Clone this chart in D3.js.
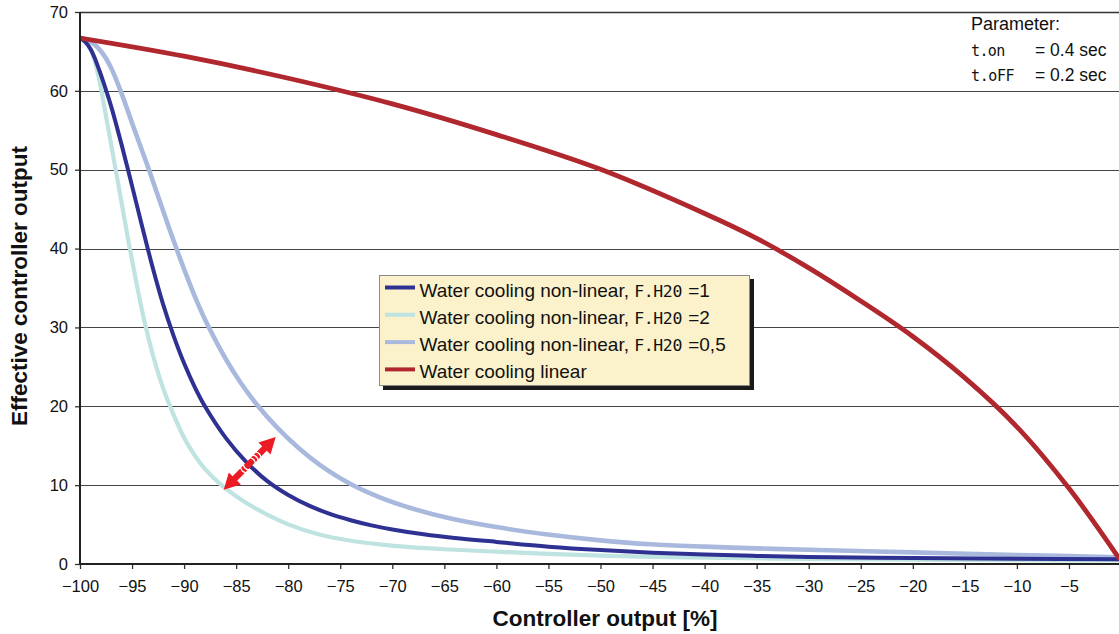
<!DOCTYPE html>
<html>
<head>
<meta charset="utf-8">
<script src="https://cdn.jsdelivr.net/npm/d3@7"></script>
<style>
  html, body { margin: 0; padding: 0; background: #fff; }
  svg { display: block; font-family: "Liberation Sans", Arial, sans-serif; }
</style>
</head>
<body>
<svg id="chart" width="1119" height="634"></svg>
<script>
// ---------------- data ----------------
const xTicks = [-100,-95,-90,-85,-80,-75,-70,-65,-60,-55,-50,-45,-40,-35,-30,-25,-20,-15,-10,-5];
const yTicks = [0,10,20,30,40,50,60,70];

// Water cooling non-linear, F.H2O = 1
const darkX = [-100,-99.5,-99,-98.6,-98.2,-97.8,-97.5,-97,-96,-95,-94,-93,-92,-91,-90,-89,-88,-86,-84,-82,-80,-78,-76,-74,-72,-70,-67,-64,-60,-55,-50,-45,-40,-35,-30,-20,-10,-0.2];
const darkY = [66.7,66.2,65.3,64.2,62.8,61.3,60.1,58.0,53.15,47.95,42.65,37.5,32.85,28.9,25.45,22.5,20,16.0,12.9,10.5,8.75,7.4,6.35,5.55,4.9,4.38,3.77,3.3,2.8,2.2,1.76,1.43,1.19,1.02,0.9,0.76,0.67,0.6];

// Water cooling non-linear, F.H2O = 2
const tealX = [-100,-99.5,-99.2,-98.9,-98.6,-98.3,-98,-97.3,-96.6,-95.95,-95.3,-94.6,-93.85,-93,-92.2,-91.5,-90,-89,-88,-86.55,-85,-83,-80,-77,-74.1,-71,-68,-64.5,-60,-55,-50,-45,-40,-30,-20,-10,-0.2];
const tealY = [66.7,66.4,65.9,65.1,63.9,62.3,60.4,55.3,50.2,45.4,40.6,35.8,31.0,26.5,23.0,20.5,16.0,13.8,12.05,10.15,8.6,6.95,5.03,3.74,2.98,2.46,2.11,1.84,1.56,1.28,1.05,0.9,0.79,0.65,0.55,0.49,0.45];

// Water cooling non-linear, F.H2O = 0,5
const lightX = [-100,-99.5,-99,-98.5,-98,-97.5,-96.9,-96.1,-94.75,-93.4,-92.15,-90.9,-89.8,-88.8,-87.7,-86,-84.5,-83,-81.1,-79,-77,-74.1,-71.2,-68,-64.5,-60,-54.85,-50,-45.2,-40,-35,-30,-20,-10,-0.2];
const lightY = [66.7,66.55,66.25,65.75,65.05,64.1,62.6,60,55,50.1,45.3,40.6,36.7,33.4,30.2,26.0,22.85,20.2,17.35,14.7,12.6,10.2,8.45,7.0,5.8,4.68,3.7,3.0,2.5,2.2,1.98,1.8,1.48,1.15,0.85];

// Water cooling linear
const redX = [-100,-90,-80,-70,-60,-50,-40,-35,-30,-25,-20,-15,-10,-5,-0.2];
const redY = [66.7,64.4,61.6,58.35,54.45,50.05,44.45,41.3,37.55,33.35,28.85,23.6,17.4,9.6,0.75];

// annotation arrow (data units)
const arrowFrom = [-86.2, 9.4];
const arrowTo = [-81.2, 16.1];

const legendPrefix = ["Water cooling non-linear, ", "Water cooling non-linear, ", "Water cooling non-linear, ", "Water cooling linear"];
const legendParam = ["F.H20", "F.H20", "F.H20", ""];
const legendValue = ["=1", "=2", "=0,5", ""];

// ---------------- drawing ----------------
const svg = d3.select("#chart");
const W = 1119, H = 634;
const x = d3.scaleLinear().domain([-100, 0]).range([80, 1121]);
const y = d3.scaleLinear().domain([0, 70]).range([564, 12]);

const colors = { dark: "#2e3192", teal: "#bfe3e0", light: "#a9b9dd", red: "#b0272e" };

// gridlines
svg.append("g").selectAll("line").data(yTicks.filter(d => d > 0)).join("line")
  .attr("x1", x(-100)).attr("x2", W)
  .attr("y1", d => Math.round(y(d)) + 0.5).attr("y2", d => Math.round(y(d)) + 0.5)
  .attr("stroke", d => d === 70 ? "#333" : "#444")
  .attr("stroke-width", d => d === 70 ? 1.6 : 1.2);

// clip
svg.append("clipPath").attr("id", "plotclip").append("rect")
  .attr("x", x(-100)).attr("y", 0).attr("width", W - x(-100)).attr("height", y(0));

const line = d3.line().x(d => x(d[0])).y(d => y(d[1])).curve(d3.curveCatmullRom.alpha(0.5));
const series = [
  { pts: d3.zip(tealX, tealY), c: colors.teal, w: 4.2 },
  { pts: d3.zip(lightX, lightY), c: colors.light, w: 4.6 },
  { pts: d3.zip(darkX, darkY), c: colors.dark, w: 4 },
  { pts: d3.zip(redX, redY), c: colors.red, w: 4.8 }
];
const gLines = svg.append("g").attr("clip-path", "url(#plotclip)");
series.forEach(s => {
  gLines.append("path").datum(s.pts)
    .attr("d", line)
    .attr("fill", "none")
    .attr("stroke", s.c)
    .attr("stroke-width", s.w)
    .attr("stroke-linejoin", "round")
    .attr("stroke-linecap", "round");
});

// axes
const yAxis = d3.axisLeft(y).tickValues(yTicks).tickSize(5).tickPadding(7);
const gy = svg.append("g").attr("transform", `translate(${x(-100)},0)`).call(yAxis);
gy.select(".domain").remove();
gy.selectAll(".tick line").attr("stroke", "#333").attr("stroke-width", 1.3);
gy.selectAll("text").attr("font-size", 16.5).attr("fill", "#111").attr("font-family", "Liberation Sans, Arial, sans-serif");

const xAxis = d3.axisBottom(x).tickValues(xTicks).tickSize(5).tickPadding(11);
const gx = svg.append("g").attr("transform", `translate(0,${y(0)})`).call(xAxis);
gx.select(".domain").remove();
gx.selectAll(".tick line").attr("stroke", "#333").attr("stroke-width", 1.3);
gx.selectAll("text").attr("font-size", 16.5).attr("fill", "#111").attr("font-family", "Liberation Sans, Arial, sans-serif");

// axis lines
svg.append("line").attr("x1", x(-100)).attr("x2", x(-100)).attr("y1", y(70)).attr("y2", y(0) + 1)
  .attr("stroke", "#222").attr("stroke-width", 2);
svg.append("line").attr("x1", x(-100) - 1).attr("x2", W).attr("y1", y(0)).attr("y2", y(0))
  .attr("stroke", "#222").attr("stroke-width", 2);

// axis titles
svg.append("text").attr("x", 605).attr("y", 626).attr("text-anchor", "middle")
  .attr("font-weight", "bold").attr("font-size", 22.5).attr("fill", "#111")
  .text("Controller output [%]");
svg.append("text").attr("transform", "translate(27,286) rotate(-90)").attr("text-anchor", "middle")
  .attr("font-weight", "bold").attr("font-size", 22.5).attr("fill", "#111")
  .text("Effective controller output");

// arrow annotation
(function () {
  const x0 = x(arrowFrom[0]), y0 = y(arrowFrom[1]);
  const x1 = x(arrowTo[0]), y1 = y(arrowTo[1]);
  const len = Math.hypot(x1 - x0, y1 - y0);
  const ang = Math.atan2(y1 - y0, x1 - x0) * 180 / Math.PI;
  const g = svg.append("g").attr("transform", `translate(${x0},${y0}) rotate(${ang})`);
  const hl = 16, hw = 8.5, bw = 3.2;
  g.append("path").attr("fill", "#ec1c24").attr("d",
    `M0,0 L${hl},${-hw} L${hl},${-bw} L${len - hl},${-bw} L${len - hl},${-hw} L${len},0 L${len - hl},${hw} L${len - hl},${bw} L${hl},${bw} L${hl},${hw} Z`);
  const mid = len / 2;
  [-9, -5, 4, 8, 12].forEach(o => {
    g.append("path").attr("fill", "none").attr("stroke", "#fff").attr("stroke-width", 1.3)
      .attr("d", `M${mid + o},${-bw - 1} Q${mid + o + (o < 0 ? -3 : 3)},0 ${mid + o},${bw + 1}`);
  });
})();

// legend
const lg = svg.append("g").attr("transform", "translate(379,275)");
lg.append("rect").attr("x", 4).attr("y", 4).attr("width", 371).attr("height", 111).attr("fill", "#1a1a1a");
lg.append("rect").attr("x", 0.5).attr("y", 0.5).attr("width", 370).attr("height", 110)
  .attr("fill", "#fbf2cc").attr("stroke", "#8a8a8a").attr("stroke-width", 1);
const legendColors = [colors.dark, colors.teal, colors.light, colors.red];
legendColors.forEach((c, i) => {
  const yy = 12.5 + i * 27.3;
  lg.append("line").attr("x1", 6).attr("x2", 36).attr("y1", yy).attr("y2", yy)
    .attr("stroke", c).attr("stroke-width", 4);
  const t = lg.append("text").attr("x", 40.5).attr("y", yy + 9).attr("font-size", 19).attr("fill", "#111");
  t.append("tspan").text(legendPrefix[i]);
  if (legendParam[i]) {
    t.append("tspan").attr("font-size", 16.5).attr("letter-spacing", -0.4)
      .attr("font-family", "DejaVu Sans Mono, monospace").text(legendParam[i]);
    t.append("tspan").attr("dx", 1).text(" " + legendValue[i]);
  }
});

// parameter text
const pg = svg.append("g").attr("fill", "#111");
pg.append("text").attr("x", 971).attr("y", 30).attr("font-size", 18).text("Parameter:");
pg.append("text").attr("x", 971).attr("y", 56).attr("font-family", "DejaVu Sans Mono, monospace").attr("font-size", 15).attr("letter-spacing", -0.6).text("t.on");
pg.append("text").attr("x", 1035).attr("y", 56).attr("font-size", 17.5).text("= 0.4 sec");
pg.append("text").attr("x", 971).attr("y", 81).attr("font-family", "DejaVu Sans Mono, monospace").attr("font-size", 15).attr("letter-spacing", -0.4).text("t.oFF");
pg.append("text").attr("x", 1035).attr("y", 81).attr("font-size", 17.5).text("= 0.2 sec");
</script>
</body>
</html>
